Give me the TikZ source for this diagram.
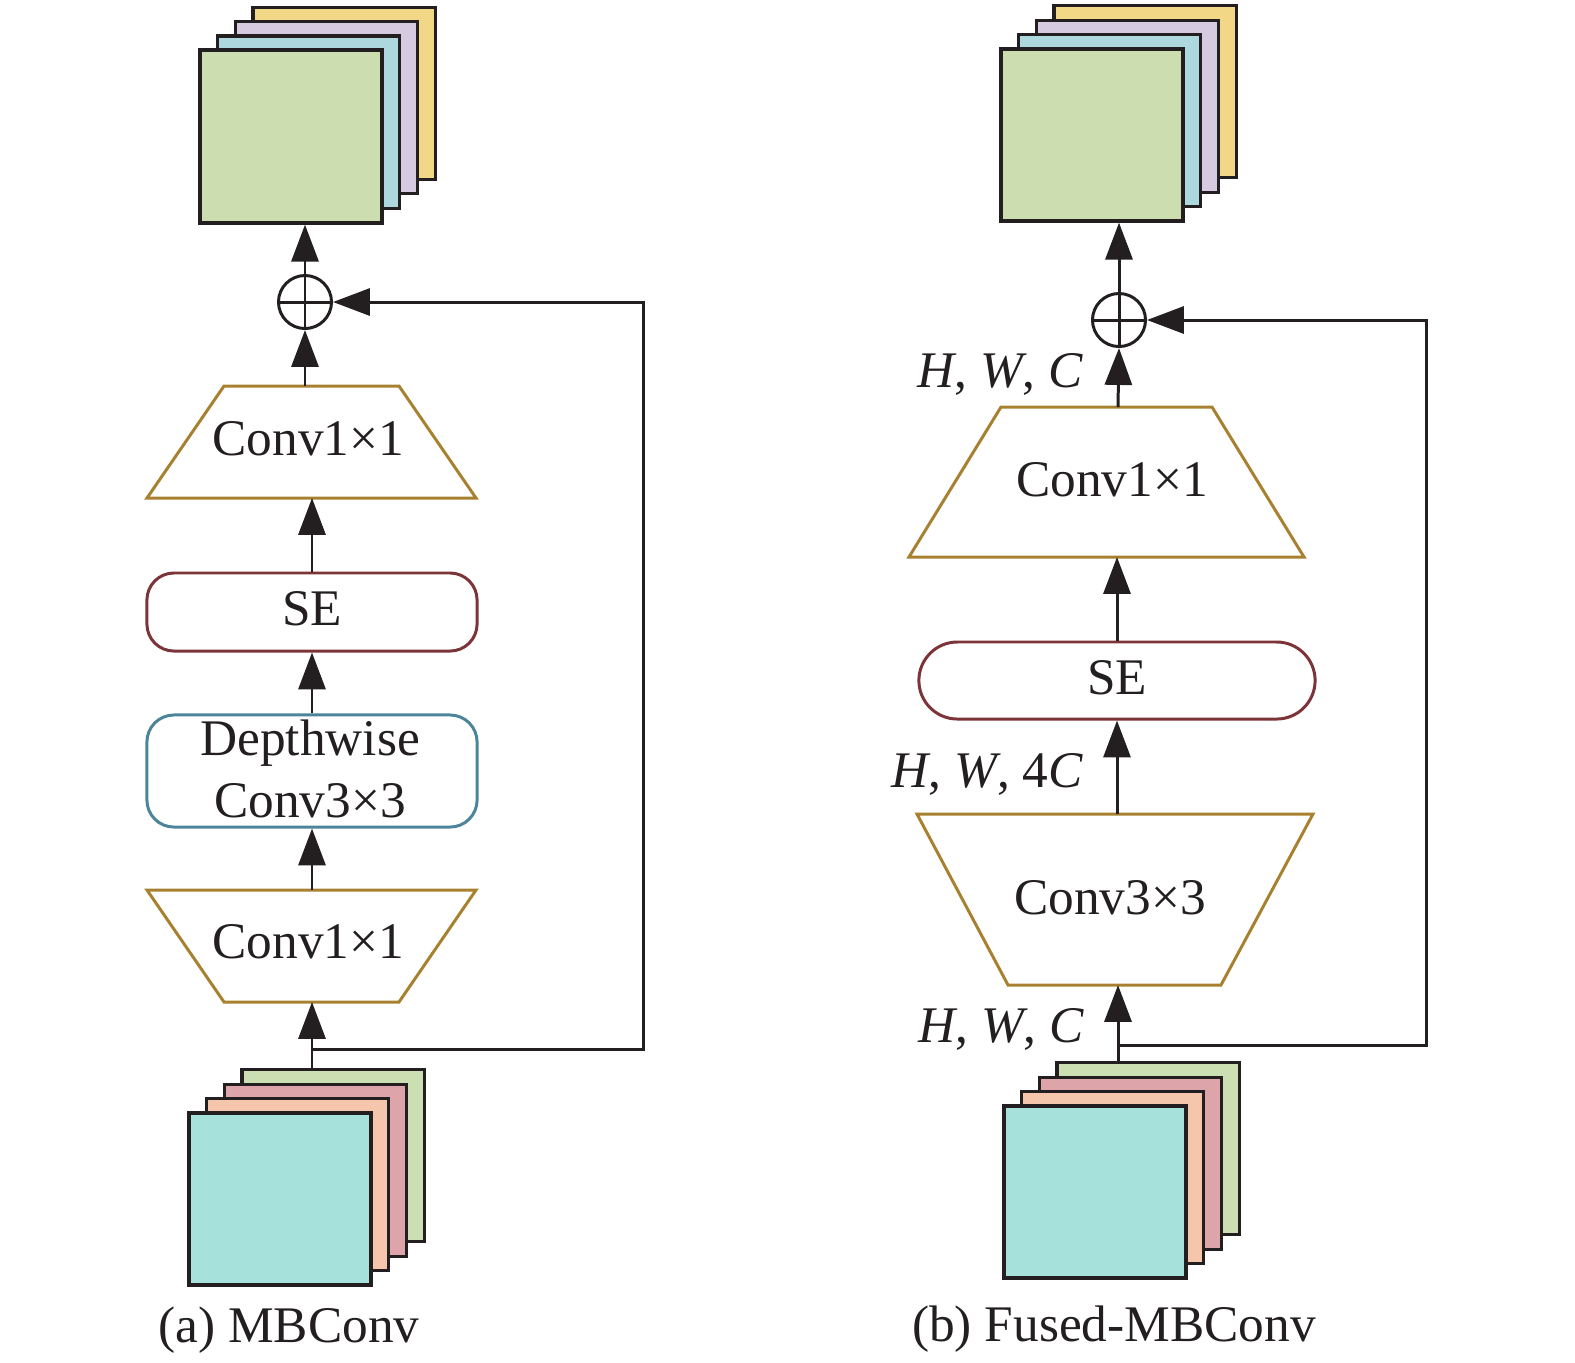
\documentclass[tikz,border=0pt]{standalone}
\usepackage{fontspec}
\setmainfont{Liberation Serif}
\usetikzlibrary{arrows.meta}
\definecolor{lineC}{HTML}{231F20}
\definecolor{oGreen}{HTML}{CCDEB0}
\definecolor{oCyan}{HTML}{ADD8DE}
\definecolor{oPurple}{HTML}{D6CAE0}
\definecolor{oYellow}{HTML}{F2D886}
\definecolor{iCyan}{HTML}{A6E1DB}
\definecolor{iOrange}{HTML}{F5C6AC}
\definecolor{iPink}{HTML}{DDA5AA}
\definecolor{iGreen}{HTML}{CCDFB2}
\definecolor{trapC}{HTML}{A88130}
\definecolor{seC}{HTML}{7D3438}
\definecolor{dwC}{HTML}{4C8599}
\begin{document}
\begin{tikzpicture}[x=0.01cm,y=-0.01cm,
  font=\fontsize{14.6}{17.6}\selectfont, text=lineC,
  arr/.style={draw=lineC, line width=0.85pt, -{Triangle[length=10.5pt,width=7.7pt]}},
  plain/.style={draw=lineC, line width=0.85pt},
  layer/.style={draw=lineC, line width=0.9pt, inner sep=0pt, minimum width=1.82cm, minimum height=1.72cm},
  trap/.style={draw=trapC, line width=0.85pt},
  sebox/.style={draw=seC, line width=0.85pt, inner sep=0pt},
  dwbox/.style={draw=dwC, line width=0.85pt, inner sep=0pt, rounded corners=0.27cm, align=center},
  sumnode/.style={circle, draw=lineC, line width=0.85pt, minimum size=0.53cm, inner sep=0pt,
    path picture={\draw[lineC, line width=0.85pt]
      (path picture bounding box.north) -- (path picture bounding box.south)
      (path picture bounding box.west) -- (path picture bounding box.east);}},
  lbl/.style={inner sep=0pt}
]
\useasboundingbox (0,0) rectangle (1575,1362);

% ===================== (a) MBConv =====================
% output stack
\node[layer, fill=oYellow] (outA4) at (344.1,93.3) {};
\node[layer, fill=oPurple] (outA3) at (326.4,107.7) {};
\node[layer, fill=oCyan]   (outA2) at (308.7,122.1) {};
\node[layer, fill=oGreen, minimum height=1.73cm] (outA) at (291,136.5) {};

% sum
\node[sumnode] (sumA) at (305,302) {};

% upper Conv1x1 (expanding trapezoid)
\draw[trap] (224,386) -- (399,386) -- (476,498) -- (147,498) -- cycle;
\node[lbl, anchor=base] (t1txt) at (308.5,455) {Conv1×1};
\coordinate (t1top) at (305,386);
\coordinate (t1bot) at (312,498);

% SE
\node[sebox, rounded corners=0.27cm, minimum width=3.30cm, minimum height=0.78cm] (SEa) at (312,612) {};
\node[lbl, anchor=base] (SEatxt) at (312,625) {SE};

% Depthwise
\node[dwbox, minimum width=3.30cm, minimum height=1.12cm] (dwA) at (312,771) {};
\node[lbl, anchor=base] (dwtxt1) at (310,755) {Depthwise};
\node[lbl, anchor=base] (dwtxt2) at (310,817) {Conv3×3};

% lower Conv1x1 (reducing trapezoid)
\draw[trap] (147,890) -- (476,890) -- (399,1002) -- (224,1002) -- cycle;
\node[lbl, anchor=base] (t2txt) at (308.5,958) {Conv1×1};
\coordinate (t2top) at (312,890);
\coordinate (t2bot) at (312,1002);

% input stack
\node[layer, fill=iGreen]  (inA1) at (333.1,1155.8) {};
\node[layer, fill=iPink]   (inA2) at (315.4,1170.2) {};
\node[layer, fill=iOrange] (inA3) at (297.7,1184.6) {};
\node[layer, fill=iCyan]   (inA4) at (280,1199) {};

% connectors (a)
\coordinate (jA) at (312,1049);
\coordinate (cornerA) at (643,302);
\draw[arr] (t2bot |- inA1.north) -- (t2bot);
\draw[arr] (t2top) -- (dwA.south);
\draw[arr] (dwA.north) -- (SEa.south);
\draw[arr] (SEa.north) -- (t1bot);
\draw[arr] (t1top) -- (sumA.south);
\draw[arr] (sumA.north) -- (sumA.north |- outA.south);
\draw[arr] (jA) -- (jA -| cornerA) -- (cornerA) -- (sumA.east);

\node[lbl, anchor=base] (capA) at (289,1342) {(a) MBConv};

% ===================== (b) Fused-MBConv =====================
\node[layer, fill=oYellow] (outB4) at (1145.1,91.8) {};
\node[layer, fill=oPurple] (outB3) at (1127.4,106.2) {};
\node[layer, fill=oCyan]   (outB2) at (1109.7,120.6) {};
\node[layer, fill=oGreen]  (outB) at (1092,135) {};

\node[sumnode] (sumB) at (1119,320) {};

% Conv1x1 trapezoid
\draw[trap] (1001,407) -- (1212,407) -- (1304,557) -- (909,557) -- cycle;
\node[lbl, anchor=base] (t3txt) at (1112,496) {Conv1×1};
\coordinate (t3top) at (1118,407);
\coordinate (t3bot) at (1117,557);

% SE
\node[sebox, rounded corners=0.385cm, minimum width=3.96cm, minimum height=0.77cm] (SEb) at (1117,680.5) {};
\node[lbl, anchor=base] (SEbtxt) at (1117,694) {SE};

% Conv3x3 trapezoid
\draw[trap] (917,814) -- (1313,814) -- (1221,985) -- (1008,985) -- cycle;
\node[lbl, anchor=base] (t4txt) at (1110,914) {Conv3×3};
\coordinate (t4top) at (1117,814);
\coordinate (t4bot) at (1118,985);

% input stack
\node[layer, fill=iGreen]  (inB1) at (1148.1,1148.8) {};
\node[layer, fill=iPink]   (inB2) at (1130.4,1163.2) {};
\node[layer, fill=iOrange] (inB3) at (1112.7,1177.6) {};
\node[layer, fill=iCyan]   (inB4) at (1095,1192) {};

% labels
\node[lbl, anchor=base east] (hwcB1) at (1084,387) {\textit{H}, \textit{W}, \textit{C}};
\node[lbl, anchor=base east] (hwcB2) at (1084,787) {\textit{H}, \textit{W}, 4\textit{C}};
\node[lbl, anchor=base east] (hwcB3) at (1085,1042) {\textit{H}, \textit{W}, \textit{C}};

% connectors (b)
\coordinate (jB) at (1118,1045);
\coordinate (cornerB) at (1426,320);
\draw[arr] (t4bot |- inB1.north) -- (t4bot);
\draw[arr] (t4top) -- (SEb.south);
\draw[arr] (SEb.north) -- (t3bot);
\draw[arr] (t3top) -- (sumB.south);
\draw[arr] (sumB.north) -- (sumB.north |- outB.south);
\draw[arr] (jB) -- (jB -| cornerB) -- (cornerB) -- (sumB.east);

\node[lbl, anchor=base] (capB) at (1114,1341) {(b) Fused-MBConv};
\end{tikzpicture}
\end{document}
